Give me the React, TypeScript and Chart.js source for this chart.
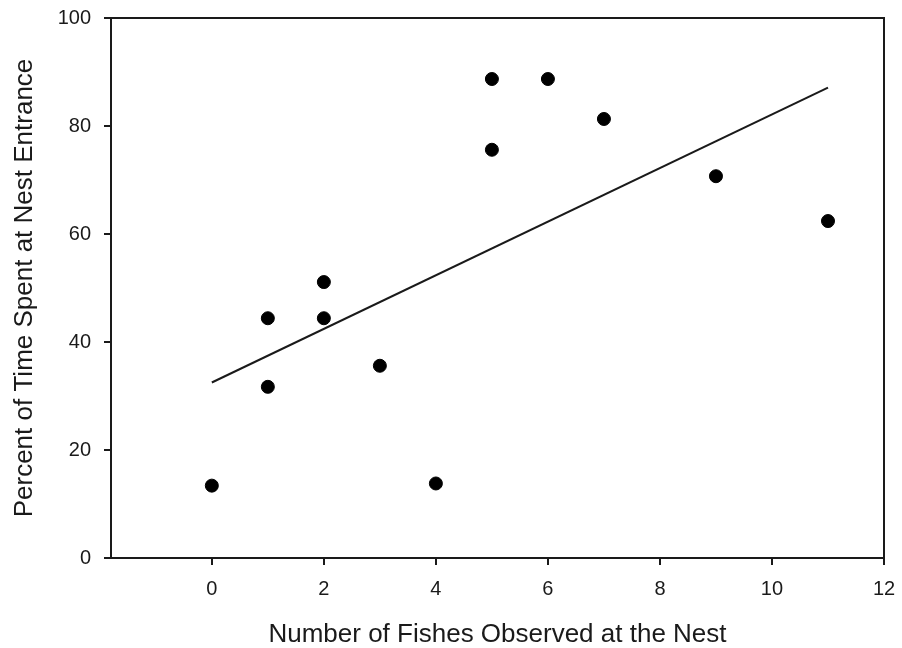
import React, { useEffect, useRef } from "react";
import { Chart, registerables } from "chart.js";

Chart.register(...registerables);

const fishCounts = [0, 1, 1, 2, 2, 3, 4, 5, 5, 6, 7, 9, 11];
const percentTime = [13.4, 44.4, 31.7, 51.1, 44.4, 35.6, 13.8, 88.7, 75.6, 88.7, 81.3, 70.7, 62.4];
const fitX = [0, 11];
const fitY = [32.5, 87.1];
const xTicks = [0, 2, 4, 6, 8, 10, 12];
const yTicks = [0, 20, 40, 60, 80, 100];
const xTitle = "Number of Fishes Observed at the Nest";
const yTitle = "Percent of Time Spent at Nest Entrance";

const FONT = "'Liberation Sans', Arial, sans-serif";
const INK = "#1a1a1a";

const boxPlugin = {
  id: "boxPlugin",
  afterDraw(chart: any) {
    const { ctx, chartArea } = chart;
    ctx.save();
    ctx.strokeStyle = INK;
    ctx.lineWidth = 2;
    ctx.strokeRect(chartArea.left, chartArea.top, chartArea.right - chartArea.left, chartArea.bottom - chartArea.top);
    ctx.restore();
  },
};

const zeroPad = (axis: any) => {
  axis.paddingTop = 0;
  axis.paddingBottom = 0;
  axis.paddingLeft = 0;
  axis.paddingRight = 0;
};

export default function App() {
  const ref = useRef<HTMLCanvasElement>(null);
  useEffect(() => {
    const chart = new Chart(ref.current as HTMLCanvasElement, {
      type: "scatter",
      data: {
        datasets: [
          {
            type: "scatter",
            data: fishCounts.map((x, i) => ({ x, y: percentTime[i] })),
            backgroundColor: "#000",
            borderColor: "#000",
            pointRadius: 6.5,
            pointHoverRadius: 6.5,
          },
          {
            type: "line",
            data: fitX.map((x, i) => ({ x, y: fitY[i] })),
            borderColor: INK,
            borderWidth: 2,
            pointRadius: 0,
            fill: false,
          },
        ],
      },
      options: {
        animation: false,
        responsive: false,
        layout: { padding: { top: 18, right: 18, left: 0, bottom: 0 } },
        plugins: { legend: { display: false }, tooltip: { enabled: false } },
        scales: {
          x: {
            type: "linear",
            min: -1.8,
            max: 12,
            afterBuildTicks: (axis: any) => {
              axis.ticks = xTicks.map((v) => ({ value: v }));
            },
            afterFit: (axis: any) => {
              axis.height = 90;
              zeroPad(axis);
            },
            grid: { drawOnChartArea: false, drawTicks: true, tickLength: 7, color: INK, lineWidth: 2 },
            border: { display: true, color: INK, width: 2 },
            ticks: { color: INK, font: { family: FONT, size: 20 }, padding: 12, maxRotation: 0 },
            title: { display: true, text: xTitle, color: INK, font: { family: FONT, size: 26, lineHeight: 1 }, padding: { top: 0, bottom: 0 } },
          },
          y: {
            type: "linear",
            min: 0,
            max: 100,
            afterBuildTicks: (axis: any) => {
              axis.ticks = yTicks.map((v) => ({ value: v }));
            },
            afterFit: (axis: any) => {
              axis.width = 111;
              zeroPad(axis);
            },
            grid: { drawOnChartArea: false, drawTicks: true, tickLength: 7, color: INK, lineWidth: 2 },
            border: { display: true, color: INK, width: 2 },
            ticks: { color: INK, font: { family: FONT, size: 20 }, padding: 13 },
            title: { display: true, text: yTitle, color: INK, font: { family: FONT, size: 26, lineHeight: 1 }, padding: { top: 12, bottom: 0 } },
          },
        },
      },
      plugins: [boxPlugin],
    } as any);
    return () => chart.destroy();
  }, []);
  return (
    <div style={{ position: "fixed", left: 0, top: 0, width: 902, height: 648, background: "#fff" }}>
      <canvas ref={ref} width={902} height={648} style={{ display: "block" }} />
    </div>
  );
}
